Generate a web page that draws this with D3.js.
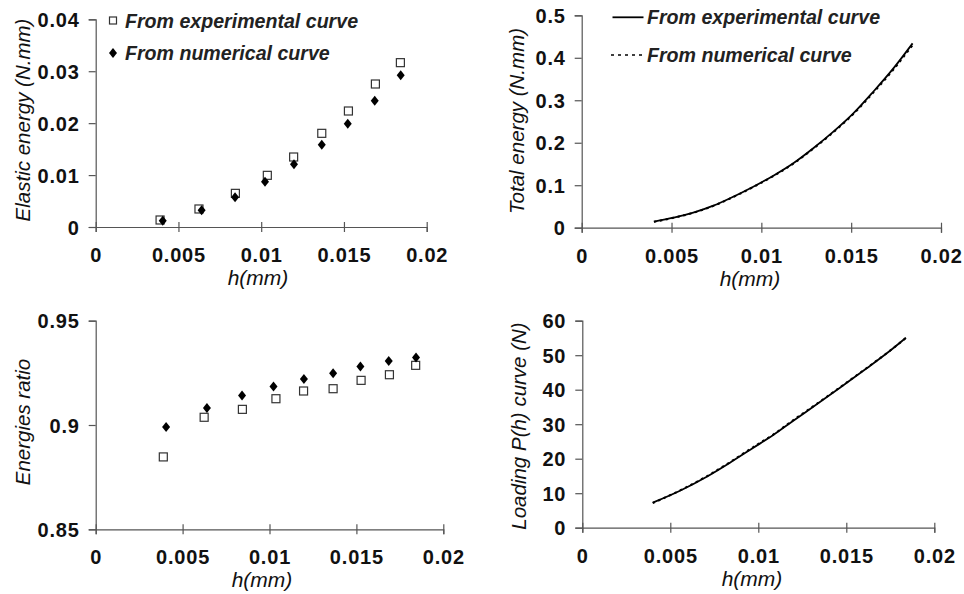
<!DOCTYPE html>
<html>
<head>
<meta charset="utf-8">
<script src="https://cdn.jsdelivr.net/npm/d3@7"></script>
<style>
  html, body { margin: 0; padding: 0; background: #fff; }
  svg { display: block; }
</style>
</head>
<body>
<svg id="chart" width="964" height="594"></svg>
<script>
// ---------------- DATA ----------------
const hTicks = [0, 0.005, 0.01, 0.015, 0.02];
const hTickLabels = ["0", "0.005", "0.01", "0.015", "0.02"];

// Discrete h values (panel a & c)
const hExp = [0.00389, 0.00624, 0.00844, 0.01037, 0.01196, 0.01366, 0.01527, 0.0169, 0.01841];
const hNum = [0.00405, 0.0064, 0.00842, 0.01023, 0.01198, 0.01366, 0.01523, 0.01686, 0.01843];

// Elastic energy (N.mm)
const elasticExp = [0.00135, 0.00347, 0.00648, 0.00995, 0.01348, 0.01804, 0.02234, 0.02754, 0.03165];
const elasticNum = [0.00122, 0.00321, 0.00571, 0.00873, 0.01207, 0.01586, 0.0199, 0.02433, 0.02921];
const elasticTicks = [0, 0.01, 0.02, 0.03, 0.04];
const elasticTickLabels = ["0", "0.01", "0.02", "0.03", "0.04"];

// Energies ratio
const ratioExp = [0.8847, 0.9037, 0.9075, 0.9126, 0.9163, 0.9174, 0.9214, 0.9241, 0.9286];
const ratioNum = [0.899, 0.9081, 0.9141, 0.9185, 0.922, 0.9248, 0.928, 0.9307, 0.9324];
const ratioTicks = [0.85, 0.9, 0.95];
const ratioTickLabels = ["0.85", "0.9", "0.95"];

// Total energy (N.mm)
const hTotal = [0.00402, 0.0051, 0.00621, 0.00733, 0.00844, 0.00955, 0.01067, 0.01178, 0.01289, 0.01401, 0.01512, 0.01623, 0.01735, 0.01842];
const totalExp = [0.0141, 0.0235, 0.0353, 0.0518, 0.073, 0.0965, 0.1224, 0.1516, 0.1869, 0.226, 0.269, 0.32, 0.375, 0.434];
const totalNum = [0.0138, 0.0232, 0.035, 0.0513, 0.0724, 0.0958, 0.1216, 0.1508, 0.186, 0.2248, 0.2675, 0.318, 0.372, 0.43];
const totalTicks = [0, 0.1, 0.2, 0.3, 0.4, 0.5];
const totalTickLabels = ["0", "0.1", "0.2", "0.3", "0.4", "0.5"];

// Loading P(h) curve (N)
const hLoad = [0.004, 0.00555, 0.00707, 0.00839, 0.00972, 0.01085, 0.01199, 0.01332, 0.01464, 0.01616, 0.0173, 0.01839];
const loadExp = [7.25, 10.72, 14.78, 18.84, 23.19, 26.87, 31.01, 35.77, 40.58, 46.2, 50.55, 55.07];
const loadNum = [7.1, 10.8, 14.9, 19.0, 23.4, 27.0, 31.2, 35.9, 40.7, 46.3, 50.6, 55.0];
const loadTicks = [0, 10, 20, 30, 40, 50, 60];
const loadTickLabels = ["0", "10", "20", "30", "40", "50", "60"];

const legendLabels = ["From experimental curve", "From numerical curve"];
const xTitle = "h(mm)";

// ---------------- DRAWING ----------------
const svg = d3.select("#chart");
const AXIS = "#555";
const INK = "#111";
const FONT = "'Liberation Sans', Arial, sans-serif";

function panel(o) {
  const x = d3.scaleLinear().domain([0, 0.02]).range([o.x0, o.x1]);
  const y = d3.scaleLinear().domain(o.yDomain).range([o.yb, o.yt]);
  const g = svg.append("g");

  const yAx = g.append("g").attr("transform", `translate(${o.x0},0)`)
    .call(d3.axisLeft(y).tickValues(o.yTicks).tickSize(7).tickPadding(9)
      .tickFormat((d, i) => o.yLabels[i]));
  const xAx = g.append("g").attr("transform", `translate(0,${o.yb})`)
    .call(d3.axisBottom(x).tickValues(hTicks).tickSize(5).tickPadding(16)
      .tickFormat((d, i) => hTickLabels[i]));
  [yAx, xAx].forEach(a => {
    a.select(".domain").attr("stroke", AXIS).attr("stroke-width", 1.2);
    a.selectAll(".tick line").attr("stroke", AXIS).attr("stroke-width", 1.2);
    a.selectAll("text").attr("fill", INK).style("font-family", FONT)
      .style("font-size", "20px").style("font-weight", "bold").style("letter-spacing", "0.8px");
  });
  xAx.selectAll(".tick line").attr("y1", -5).attr("y2", 5);
  xAx.selectAll(".tick text").attr("dy", "0.71em");
  yAx.selectAll(".tick text").attr("dy", "0.36em");

  g.append("text")
    .attr("transform", `translate(${o.ytx},${o.ytc}) rotate(-90)`)
    .attr("text-anchor", "middle").attr("dominant-baseline", "central")
    .style("font-family", FONT).style("font-size", "20.5px").style("font-style", "italic")
    .attr("fill", INK).text(o.yTitle);
  g.append("text")
    .attr("x", o.xtc).attr("y", o.yb + 58)
    .attr("text-anchor", "middle")
    .style("font-family", FONT).style("font-size", "21px").style("font-style", "italic")
    .attr("fill", INK).text(xTitle);

  return { g, x, y };
}

function squares(p, hs, vs) {
  p.g.append("g").selectAll("rect").data(hs).join("rect")
    .attr("x", (d) => p.x(d) - 4).attr("y", (d, i) => p.y(vs[i]) - 4)
    .attr("width", 8).attr("height", 8)
    .attr("fill", "#fff").attr("stroke", "#333").attr("stroke-width", 1.2);
}
const diamondPath = "M0,-5L4,0L0,5L-4,0Z";
function diamonds(p, hs, vs) {
  p.g.append("g").selectAll("path").data(hs).join("path")
    .attr("d", diamondPath)
    .attr("transform", (d, i) => `translate(${p.x(d)},${p.y(vs[i])})`)
    .attr("fill", "#000");
}
function curve(p, hs, vs, dash) {
  const line = d3.line().x(d => p.x(d[0])).y(d => p.y(d[1])).curve(d3.curveMonotoneX);
  const path = p.g.append("path").datum(hs.map((h, i) => [h, vs[i]]))
    .attr("d", line).attr("fill", "none").attr("stroke", "#000")
    .attr("stroke-width", dash ? 2 : 1.8);
  if (dash) path.attr("stroke-dasharray", "2.5,3.5");
}
function legendText(g, x, y, t) {
  g.append("text").attr("x", x).attr("y", y)
    .style("font-family", FONT).style("font-size", "19.6px")
    .style("font-style", "italic").style("font-weight", "bold")
    .attr("fill", "#222").text(t);
}

// Panel A: elastic energy
const pA = panel({ x0: 95.7, x1: 426.7, yb: 227, yt: 19.3, yDomain: [0, 0.04],
  yTicks: elasticTicks, yLabels: elasticTickLabels, yTitle: "Elastic energy (N.mm)",
  ytx: 22, ytc: 120, xtc: 258 });
squares(pA, hExp, elasticExp);
diamonds(pA, hNum, elasticNum);
pA.g.append("rect").attr("x", 109.5).attr("y", 17).attr("width", 7).attr("height", 7)
  .attr("fill", "#fff").attr("stroke", "#333").attr("stroke-width", 1.2);
legendText(pA.g, 125, 27.5, legendLabels[0]);
pA.g.append("path").attr("d", diamondPath).attr("transform", "translate(113,53)").attr("fill", "#000");
legendText(pA.g, 125, 59.5, legendLabels[1]);

// Panel B: total energy
const pB = panel({ x0: 581.7, x1: 941, yb: 227.7, yt: 15.3, yDomain: [0, 0.5],
  yTicks: totalTicks, yLabels: totalTickLabels, yTitle: "Total energy (N.mm)",
  ytx: 516, ytc: 121, xtc: 750 });
curve(pB, hTotal, totalExp, false);
curve(pB, hTotal, totalNum, true);
pB.g.append("line").attr("x1", 612.5).attr("x2", 643.5).attr("y1", 17.3).attr("y2", 17.3)
  .attr("stroke", "#000").attr("stroke-width", 1.8);
legendText(pB.g, 647, 24, legendLabels[0]);
pB.g.append("line").attr("x1", 611).attr("x2", 643.5).attr("y1", 55).attr("y2", 55)
  .attr("stroke", "#000").attr("stroke-width", 1.6).attr("stroke-dasharray", "3,4");
legendText(pB.g, 647, 62, legendLabels[1]);

// Panel C: energies ratio
const pC = panel({ x0: 95.7, x1: 443.3, yb: 529.3, yt: 320.7, yDomain: [0.85, 0.95],
  yTicks: ratioTicks, yLabels: ratioTickLabels, yTitle: "Energies ratio",
  ytx: 22, ytc: 422, xtc: 262 });
squares(pC, hExp, ratioExp);
diamonds(pC, hNum, ratioNum);

// Panel D: loading curve
const pD = panel({ x0: 582.3, x1: 934.3, yb: 527.7, yt: 320.7, yDomain: [0, 60],
  yTicks: loadTicks, yLabels: loadTickLabels, yTitle: "Loading P(h) curve (N)",
  ytx: 518, ytc: 426, xtc: 752 });
curve(pD, hLoad, loadExp, false);
curve(pD, hLoad, loadNum, true);
</script>
</body>
</html>
